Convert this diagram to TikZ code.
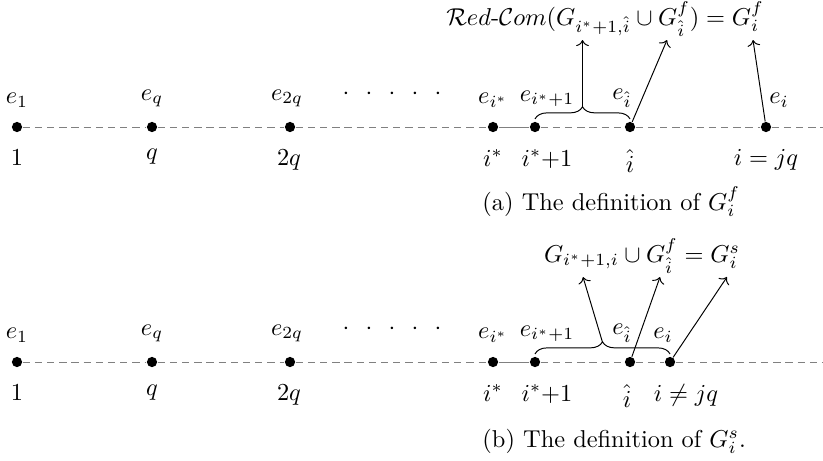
\documentclass[tikz,border=0pt]{standalone}
\usepackage{amsmath}
\usepackage{amssymb}
\usepackage{tikz}
\usetikzlibrary{arrows.meta,positioning,decorations.pathreplacing}
\tikzset{
  vertex/.style={circle,fill=black,inner sep=0pt,minimum size=4.2pt},
  line dashed/.style={draw=gray,dash pattern=on 3pt off 2pt},
  line solid/.style={draw=gray},
  group brace/.style={decorate,decoration={brace,amplitude=5pt}},
  def arrow/.style={->},
  up label/.style={anchor=south,inner sep=0pt},
  down label/.style={anchor=north,inner sep=0pt},
  formula/.style={anchor=base},
  sub caption/.style={anchor=base west,inner sep=0pt}
}

\begin{document}
\begin{tikzpicture}[x=0.41pt,y=-0.41pt]
        \useasboundingbox (0,0) rectangle (823,460);
        % (a) definition of G_i^f
        \node[vertex] (top1) at (17,127) {};
        \node[vertex] (topq) at (152,127) {};
        \node[vertex] (top2q) at (290,127) {};
        \node[vertex] (topstar) at (493,127) {};
        \node[vertex] (topnext) at (535,127) {};
        \node[vertex] (tophat) at (630,127) {};
        \node[vertex] (topi) at (766,127) {};
        \coordinate (topend) at (823,127);
        \draw[line dashed] (top1) -- (topq) -- (top2q) -- (topstar);
        \draw[line solid] (topstar) -- (topnext);
        \draw[line dashed] (topnext) -- (tophat) -- (topi) -- (topend);
        \node[up label] (tope1) at (17,107.5) {$e_1$};
        \node[up label] (topeq) at (152,107.5) {$e_q$};
        \node[up label] (tope2q) at (287,107.5) {$e_{2q}$};
        \node[anchor=base] (topdots) at (392,99) {$\cdot\mkern8mu\cdot\mkern8mu\cdot\mkern8mu\cdot\mkern8mu\cdot$};
        \node[up label] (topestar) at (493,107.5) {$e_{i^*}$};
        \node[up label] (topenext) at (547,107.5) {$e_{i^*+1}$};
        \node[up label] (topehat) at (622,107.5) {$e_{\hat{i}}$};
        \node[up label] (topei) at (779,107.5) {$e_i$};
        \node[down label] (topn1) at (17,149) {$1$};
        \node[down label] (topnq) at (152,149) {$q$};
        \node[down label] (topn2q) at (289,149) {$2q$};
        \node[down label] (topnstar) at (493,149) {$i^*$};
        \node[down label] (topnnext) at (547,149) {$i^*{+}1$};
        \node[down label] (topnhat) at (630,149) {$\hat{i}$};
        \node[down label] (topni) at (766,149) {$i=jq$};
        \node[formula] (redcom) at (605,25) {$\mathcal{R}ed$-$\mathcal{C}om(G_{i^*+1,\hat{i}}\cup G^f_{\hat{i}}) = G^f_i$};
        \coordinate (topbrace) at (582.5,107.3);
        \coordinate (toptipa) at (582.5,40);
        \coordinate (toptipb) at (667,40);
        \coordinate (toptipc) at (753,40);
        \draw[group brace] ([yshift=1pt]topnext.north) -- ([yshift=1pt]tophat.north);
        \draw[def arrow] (topbrace) -- (toptipa);
        \draw[def arrow] (tophat) -- (toptipb);
        \draw[def arrow] (topi) -- (toptipc);
        \node[sub caption] (capa) at (482,210) {(a) The definition of $G^f_i$};
        % (b) definition of G_i^s
        \node[vertex] (bot1) at (17,362) {};
        \node[vertex] (botq) at (152,362) {};
        \node[vertex] (bot2q) at (290,362) {};
        \node[vertex] (botstar) at (493,362) {};
        \node[vertex] (botnext) at (535,362) {};
        \node[vertex] (bothat) at (630,362) {};
        \node[vertex] (boti) at (670,362) {};
        \coordinate (botend) at (823,362);
        \draw[line dashed] (bot1) -- (botq) -- (bot2q) -- (botstar);
        \draw[line solid] (botstar) -- (botnext);
        \draw[line dashed] (botnext) -- (bothat) -- (boti) -- (botend);
        \node[up label] (bote1) at (17,342.5) {$e_1$};
        \node[up label] (boteq) at (152,342.5) {$e_q$};
        \node[up label] (bote2q) at (287,342.5) {$e_{2q}$};
        \node[anchor=base] (botdots) at (392,334) {$\cdot\mkern8mu\cdot\mkern8mu\cdot\mkern8mu\cdot\mkern8mu\cdot$};
        \node[up label] (botestar) at (493,342.5) {$e_{i^*}$};
        \node[up label] (botenext) at (547,342.5) {$e_{i^*+1}$};
        \node[up label] (botehat) at (622,342.5) {$e_{\hat{i}}$};
        \node[up label] (botei) at (663,342.5) {$e_i$};
        \node[down label] (botn1) at (17,384) {$1$};
        \node[down label] (botnq) at (152,384) {$q$};
        \node[down label] (botn2q) at (289,384) {$2q$};
        \node[down label] (botnstar) at (493,384) {$i^*$};
        \node[down label] (botnnext) at (547,384) {$i^*{+}1$};
        \node[down label] (botnhat) at (627,384) {$\hat{i}$};
        \node[down label] (botni) at (686,384) {$i\neq jq$};
        \node[formula] (union) at (642,262) {$G_{i^*+1,i}\cup G^f_{\hat{i}} = G^s_i$};
        \coordinate (botbrace) at (602.5,342.3);
        \coordinate (bottipa) at (583,277);
        \coordinate (bottipb) at (660,277);
        \coordinate (bottipc) at (727,277);
        \draw[group brace] ([yshift=1pt]botnext.north) -- ([yshift=1pt]boti.north);
        \draw[def arrow] (botbrace) -- (bottipa);
        \draw[def arrow] (bothat) -- (bottipb);
        \draw[def arrow] (boti) -- (bottipc);
        \node[sub caption] (capb) at (482,447) {(b) The definition of $G^s_i$.};
\end{tikzpicture}
\end{document}
